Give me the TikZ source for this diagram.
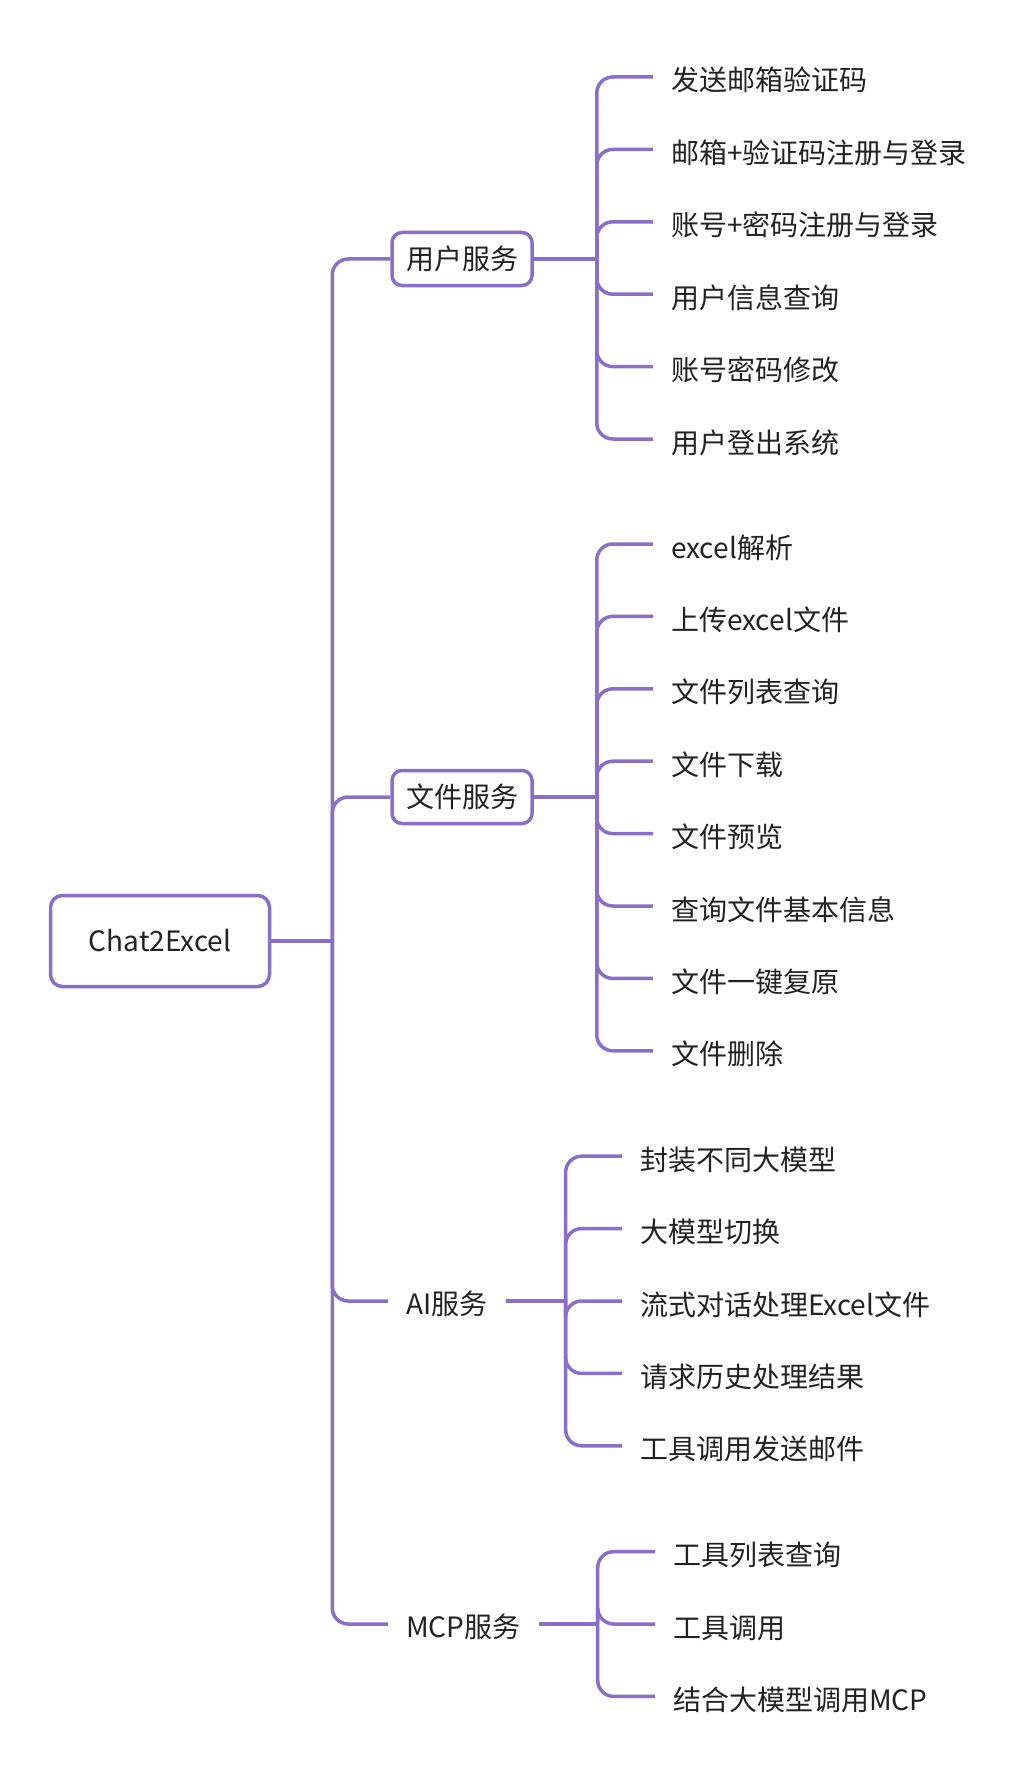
\documentclass[tikz,border=0pt]{standalone}
\usepackage{fontspec}
\setmainfont{Noto Sans CJK SC}
\usepackage{xcolor}
\usepackage{tikz}
\usetikzlibrary{positioning}

\definecolor{mindpurple}{RGB}{137,111,201}
\definecolor{mindtext}{RGB}{34,34,34}

\begin{document}
\begin{tikzpicture}[
    x=1pt,
    y=-1pt,
    font=\fontsize{28}{33}\selectfont,
    text=mindtext,
    rootbox/.style={
        rectangle,
        draw=mindpurple,
        line width=3.5pt,
        rounded corners=12pt,
        minimum width=219pt,
        minimum height=91pt
    },
    catbox/.style={
        rectangle,
        draw=mindpurple,
        line width=3.5pt,
        rounded corners=10pt,
        minimum width=140pt,
        minimum height=53pt,
        inner sep=0pt
    },
    cattext/.style={
        anchor=west,
        inner xsep=18pt,
        inner ysep=0pt,
        text height=27pt,
        text depth=0pt
    },
    leaf/.style={
        anchor=west,
        inner xsep=18pt,
        inner ysep=0pt,
        text height=28pt,
        text depth=0pt
    },
    branch/.style={
        draw=mindpurple,
        line width=3.5pt,
        rounded corners=16pt
    }
]

\useasboundingbox (0,0) rectangle (1029,1771);

\node[rootbox] (root) at (160,941) {Chat2Excel};

\node[catbox] (user) at (462,259) {用户服务};
\node[catbox] (file) at (462,797) {文件服务};
\node[cattext] (ai) at (388,1301) {AI服务};
\node[cattext] (mcp) at (388,1624) {MCP服务};

\coordinate[right=61pt of root] (rootjoint);
\coordinate[right=63pt of user] (userjoint);
\coordinate[right=63pt of file] (filejoint);
\coordinate[right=60pt of ai] (aijoint);
\coordinate[right=59pt of mcp] (mcpjoint);

\foreach \txt [count=\i] in {发送邮箱验证码, 邮箱+验证码注册与登录, 账号+密码注册与登录,
    用户信息查询, 账号密码修改, 用户登出系统}
    \node[leaf] (u\i) at (653,{77+72.4*(\i-1)}) {\txt};

\foreach \txt [count=\i] in {excel解析, 上传excel文件, 文件列表查询, 文件下载,
    文件预览, 查询文件基本信息, 文件一键复原, 文件删除}
    \node[leaf] (f\i) at (653,{544+72.4*(\i-1)}) {\txt};

\foreach \txt [count=\i] in {封装不同大模型, 大模型切换, 流式对话处理Excel文件,
    请求历史处理结果, 工具调用发送邮件}
    \node[leaf] (a\i) at (622,{1156.2+72.4*(\i-1)}) {\txt};

\foreach \txt [count=\i] in {工具列表查询, 工具调用, 结合大模型调用MCP}
    \node[leaf] (m\i) at (655,{1551.6+72.4*(\i-1)}) {\txt};

\draw[branch] (root) -- (rootjoint);
\foreach \c in {user, file, ai, mcp}
    \draw[branch] (rootjoint) |- (\c.west);

\draw[branch] (user) -- (userjoint);
\draw[branch] (file) -- (filejoint);
\draw[branch] (ai) -- (aijoint);
\draw[branch] (mcp) -- (mcpjoint);

\foreach \i in {1,...,6}
    \draw[branch] (userjoint) |- (u\i.west);
\foreach \i in {1,...,8}
    \draw[branch] (filejoint) |- (f\i.west);
\foreach \i in {1,...,5}
    \draw[branch] (aijoint) |- (a\i.west);
\foreach \i in {1,...,3}
    \draw[branch] (mcpjoint) |- (m\i.west);

\end{tikzpicture}
\end{document}
